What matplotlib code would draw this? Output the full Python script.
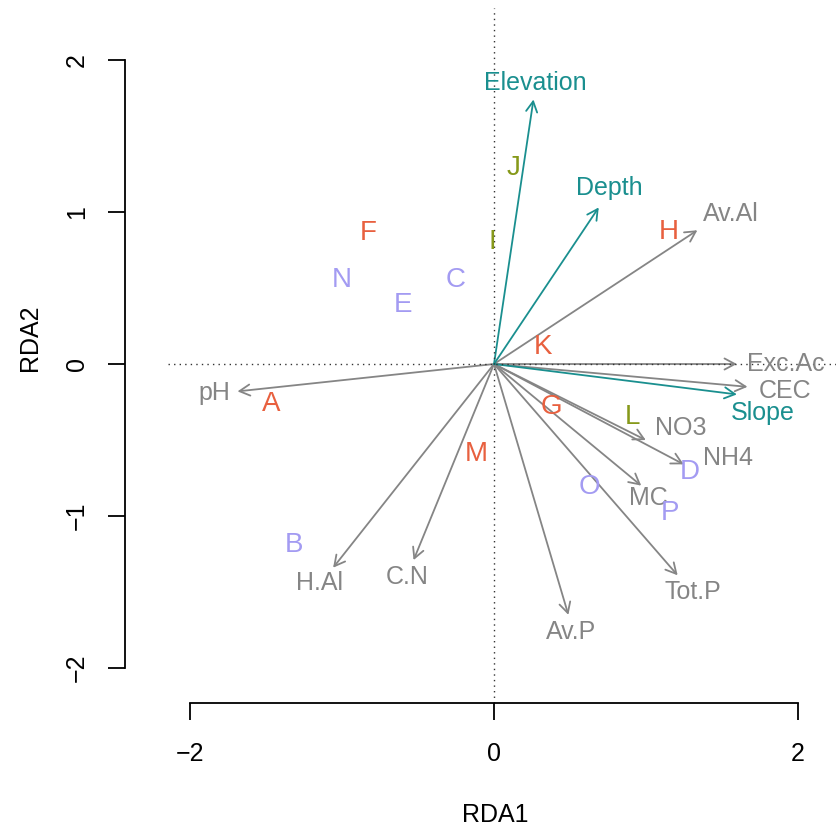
import matplotlib.pyplot as plt
from matplotlib.patches import FancyArrowPatch

plt.rcParams['font.family'] = ['Liberation Sans', 'DejaVu Sans']

# site scores (RDA1, RDA2) and group
sites = ['A', 'B', 'C', 'D', 'E', 'F', 'G', 'H', 'I', 'J', 'K', 'L', 'M', 'N', 'O', 'P']
site_x = [-1.47, -1.32, -0.25, 1.29, -0.60, -0.83, 0.38, 1.15, -0.01, 0.13, 0.32, 0.91, -0.12, -1.00, 0.63, 1.16]
site_y = [-0.26, -1.19, 0.55, -0.71, 0.39, 0.86, -0.28, 0.87, 0.80, 1.29, 0.11, -0.35, -0.59, 0.55, -0.81, -0.98]
site_group = ['r', 'b', 'b', 'b', 'b', 'r', 'r', 'r', 'g', 'g', 'r', 'g', 'r', 'b', 'b', 'b']
group_colors = {'r': '#E8603F', 'b': '#A39BF2', 'g': '#86991A'}

# soil variables (arrows)
soil = ['pH', 'H.Al', 'C.N', 'Av.P', 'Tot.P', 'MC', 'NH4', 'NO3', 'CEC', 'Exc.Ac', 'Av.Al']
soil_x = [-1.69, -1.06, -0.53, 0.49, 1.21, 0.97, 1.25, 1.00, 1.67, 1.60, 1.34]
soil_y = [-0.18, -1.34, -1.29, -1.65, -1.39, -0.80, -0.66, -0.50, -0.15, 0.00, 0.88]
soil_lab_x = [-1.84, -1.15, -0.57, 0.51, 1.31, 1.02, 1.54, 1.23, 1.92, 1.92, 1.56]
soil_lab_y = [-0.19, -1.44, -1.40, -1.76, -1.50, -0.88, -0.62, -0.42, -0.18, 0.00, 0.99]

# environment variables (arrows)
env = ['Elevation', 'Depth', 'Slope']
env_x = [0.26, 0.69, 1.60]
env_y = [1.74, 1.03, -0.20]
env_lab_x = [0.27, 0.76, 1.77]
env_lab_y = [1.85, 1.16, -0.32]

gray = '#858585'
teal = '#1A8F8F'

fig = plt.figure(figsize=(8.37, 8.32), dpi=100)
ax = fig.add_axes([168 / 837, 129 / 832, 669 / 837, 695 / 832])
ax.set_xlim(-2.148, 2.26)
ax.set_ylim(-2.23, 2.342)

ax.axhline(0, color='#333333', linestyle=(0, (1, 3)), linewidth=1)
ax.axvline(0, color='#333333', linestyle=(0, (1, 3)), linewidth=1)


def arrow(x, y, c):
    ax.add_patch(FancyArrowPatch((0, 0), (x, y), arrowstyle='->,head_length=0.75,head_width=0.4',
                                 mutation_scale=10, color=c, linewidth=1.3, shrinkA=0, shrinkB=0))


for i, name in enumerate(soil):
    arrow(soil_x[i], soil_y[i], gray)
    ax.text(soil_lab_x[i], soil_lab_y[i], name, color=gray, fontsize=18, ha='center', va='center')

for i, name in enumerate(env):
    arrow(env_x[i], env_y[i], teal)
    ax.text(env_lab_x[i], env_lab_y[i], name, color=teal, fontsize=18, ha='center', va='center')

for i, s in enumerate(sites):
    ax.text(site_x[i], site_y[i], s, color=group_colors[site_group[i]], fontsize=20,
            ha='center', va='center')

for side in ['top', 'right']:
    ax.spines[side].set_visible(False)
ax.spines['left'].set_position(('outward', 31))
ax.spines['left'].set_bounds(-2, 2)
ax.spines['bottom'].set_bounds(-2, 2)
for side in ['left', 'bottom']:
    ax.spines[side].set_linewidth(1.3)

ax.set_xticks([-2, 0, 2])
ax.set_xticklabels(['\u22122', '0', '2'])
ax.set_yticks([-2, -1, 0, 1, 2])
ax.set_yticklabels(['\u22122', '\u22121', '0', '1', '2'], rotation=90, va='center')
ax.tick_params(length=12, width=1.3, labelsize=18)
ax.tick_params(axis='x', pad=16)
ax.tick_params(axis='y', pad=14)

ax.set_xlabel('RDA1', fontsize=18, va='center')
ax.set_ylabel('RDA2', fontsize=18, va='center')
ax.xaxis.set_label_coords(0.489, -0.161)
ax.yaxis.set_label_coords(-0.206, 0.526)

plt.savefig('out.png', dpi=100)
